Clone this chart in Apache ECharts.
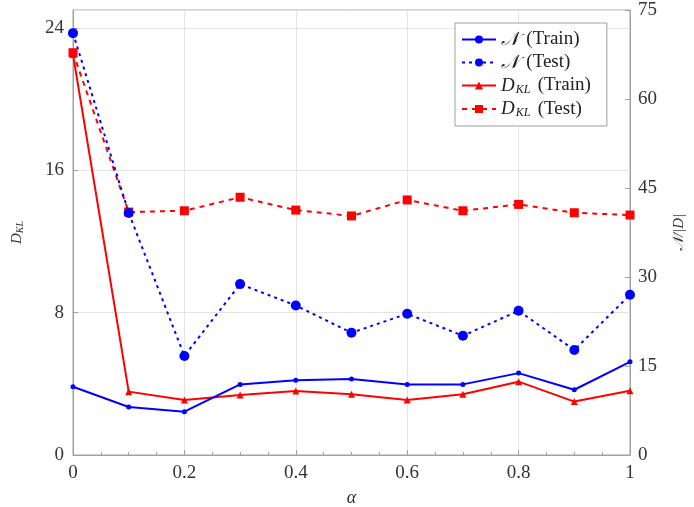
<!DOCTYPE html>
<html><head><meta charset="utf-8">
<script src="https://cdn.jsdelivr.net/npm/echarts@6/dist/echarts.min.js"></script>
<style>html,body{margin:0;padding:0;background:#fff}#c{width:694px;height:507px}</style>
</head><body><div id="c"></div>
<script>
const alpha = [0, 0.1, 0.2, 0.3, 0.4, 0.5, 0.6, 0.7, 0.8, 0.9, 1];
const nTrain = [11.5, 8.1, 7.3, 11.9, 12.6, 12.8, 11.9, 11.9, 13.8, 11.0, 15.7];
const nTest = [71.1, 40.8, 16.7, 28.8, 25.2, 20.6, 23.8, 20.1, 24.3, 17.7, 27.0];
const dklTrain = [22.5, 3.56, 3.09, 3.37, 3.6, 3.41, 3.09, 3.41, 4.12, 3.0, 3.61];
const dklTest = [22.6, 13.65, 13.72, 14.48, 13.76, 13.43, 14.33, 13.72, 14.08, 13.61, 13.48];
const leftTicks = [0, 8, 16, 24];
const rightTicks = [0, 15, 30, 45, 60, 75];
const seriesNames = ['N (Train)', 'N (Test)', 'DKL (Train)', 'DKL (Test)'];

const pairs = arr => alpha.map((a, i) => [a, arr[i]]);
const FONT = '"Liberation Serif", "DejaVu Serif", serif';
const GRAY = '#a0a0a0';
const BLUE = '#0000ff';
const RED = '#ff0000';

const chart = echarts.init(document.getElementById('c'), null, {renderer: 'canvas'});
const rich = {
  n: {fontFamily: FONT, fontStyle: 'italic', fontSize: 19, color: '#222'},
  d: {fontFamily: FONT, fontStyle: 'italic', fontSize: 19, color: '#222'},
  s: {fontFamily: FONT, fontStyle: 'italic', fontSize: 12, color: '#222', verticalAlign: 'bottom', padding: [8, 0, 0, 1]},
  t: {fontFamily: FONT, fontSize: 19, color: '#222', padding: [0, 0, 0, 4]}
};
function legendFmt(name) {
  if (name === seriesNames[0]) return '{n|𝒩} {t|(Train)}';
  if (name === seriesNames[1]) return '{n|𝒩} {t|(Test)}';
  if (name === seriesNames[2]) return '{d|D}{s|KL} {t|(Train)}';
  return '{d|D}{s|KL} {t|(Test)}';
}
chart.setOption({
  animation: false,
  backgroundColor: '#fff',
  grid: {left: 73, right: 64, top: 10, bottom: 52, containLabel: false, outerBoundsMode: 'none',
    show: true, borderColor: GRAY, borderWidth: 1},
  legend: {
    orient: 'vertical', left: 455, top: 23, padding: [7, 16, 7, 6],
    borderColor: GRAY, borderWidth: 1, backgroundColor: '#fff',
    itemWidth: 34, itemHeight: 10, itemGap: 4,
    data: seriesNames, formatter: legendFmt,
    textStyle: {rich: rich}
  },
  xAxis: {
    type: 'value', min: 0, max: 1, interval: 0.2,
    name: 'α', nameLocation: 'middle', nameGap: 34,
    nameTextStyle: {fontFamily: FONT, fontStyle: 'italic', fontSize: 18, color: '#333'},
    axisLine: {show: true, lineStyle: {color: GRAY}},
    axisTick: {show: true, inside: true, length: 5, lineStyle: {color: GRAY}},
    minorTick: {show: true, splitNumber: 4, length: 3, lineStyle: {color: GRAY}},
    splitLine: {show: true, lineStyle: {color: '#e4e4e4', width: 1}},
    axisLabel: {fontFamily: FONT, fontSize: 19, color: '#333', margin: 9,
      formatter: v => (v === 0 || v === 1) ? String(v) : v.toFixed(1)}
  },
  yAxis: [{
    type: 'value', min: 0, max: 25, interval: 8, position: 'left',
    name: '{d|D}{s|KL}', nameLocation: 'middle', nameGap: 48, nameRotate: 90,
    nameTextStyle: {rich: {
      d: {fontFamily: FONT, fontStyle: 'italic', fontSize: 15, color: '#333'},
      s: {fontFamily: FONT, fontStyle: 'italic', fontSize: 10, color: '#333', verticalAlign: 'bottom', padding: [6, 0, 0, 0]}
    }},
    axisLine: {show: true, lineStyle: {color: GRAY}},
    axisTick: {show: true, inside: true, length: 5, lineStyle: {color: GRAY}},
    splitLine: {show: true, lineStyle: {color: '#e4e4e4', width: 1}},
    axisLabel: {fontFamily: FONT, fontSize: 19, color: '#333', margin: 9, showMaxLabel: false,
      formatter: v => leftTicks.includes(v) ? String(v) : ''}
  }, {
    type: 'value', min: 0, max: 75, interval: 15, position: 'right',
    name: '𝒩/|D|', nameLocation: 'middle', nameGap: 42, nameRotate: 90,
    nameTextStyle: {fontFamily: FONT, fontStyle: 'italic', fontSize: 15, color: '#333'},
    axisLine: {show: true, lineStyle: {color: GRAY}},
    axisTick: {show: true, inside: true, length: 5, lineStyle: {color: GRAY}},
    splitLine: {show: false},
    axisLabel: {fontFamily: FONT, fontSize: 19, color: '#333', margin: 8,
      formatter: v => rightTicks.includes(v) ? String(v) : ''}
  }],
  series: [{
    name: seriesNames[2], type: 'line', yAxisIndex: 0, data: pairs(dklTrain),
    symbol: 'triangle', symbolSize: 7, color: RED,
    lineStyle: {color: RED, width: 2}, itemStyle: {color: RED}
  }, {
    name: seriesNames[3], type: 'line', yAxisIndex: 0, data: pairs(dklTest),
    symbol: 'rect', symbolSize: 9, color: RED,
    lineStyle: {color: RED, width: 2, type: [5, 5]}, itemStyle: {color: RED}
  }, {
    name: seriesNames[0], type: 'line', yAxisIndex: 1, data: pairs(nTrain),
    symbol: 'circle', symbolSize: 5, color: BLUE,
    lineStyle: {color: BLUE, width: 2}, itemStyle: {color: BLUE}
  }, {
    name: seriesNames[1], type: 'line', yAxisIndex: 1, data: pairs(nTest),
    symbol: 'circle', symbolSize: 10, color: BLUE,
    lineStyle: {color: BLUE, width: 2, type: [3, 4]}, itemStyle: {color: BLUE}
  }]
});
</script></body></html>
